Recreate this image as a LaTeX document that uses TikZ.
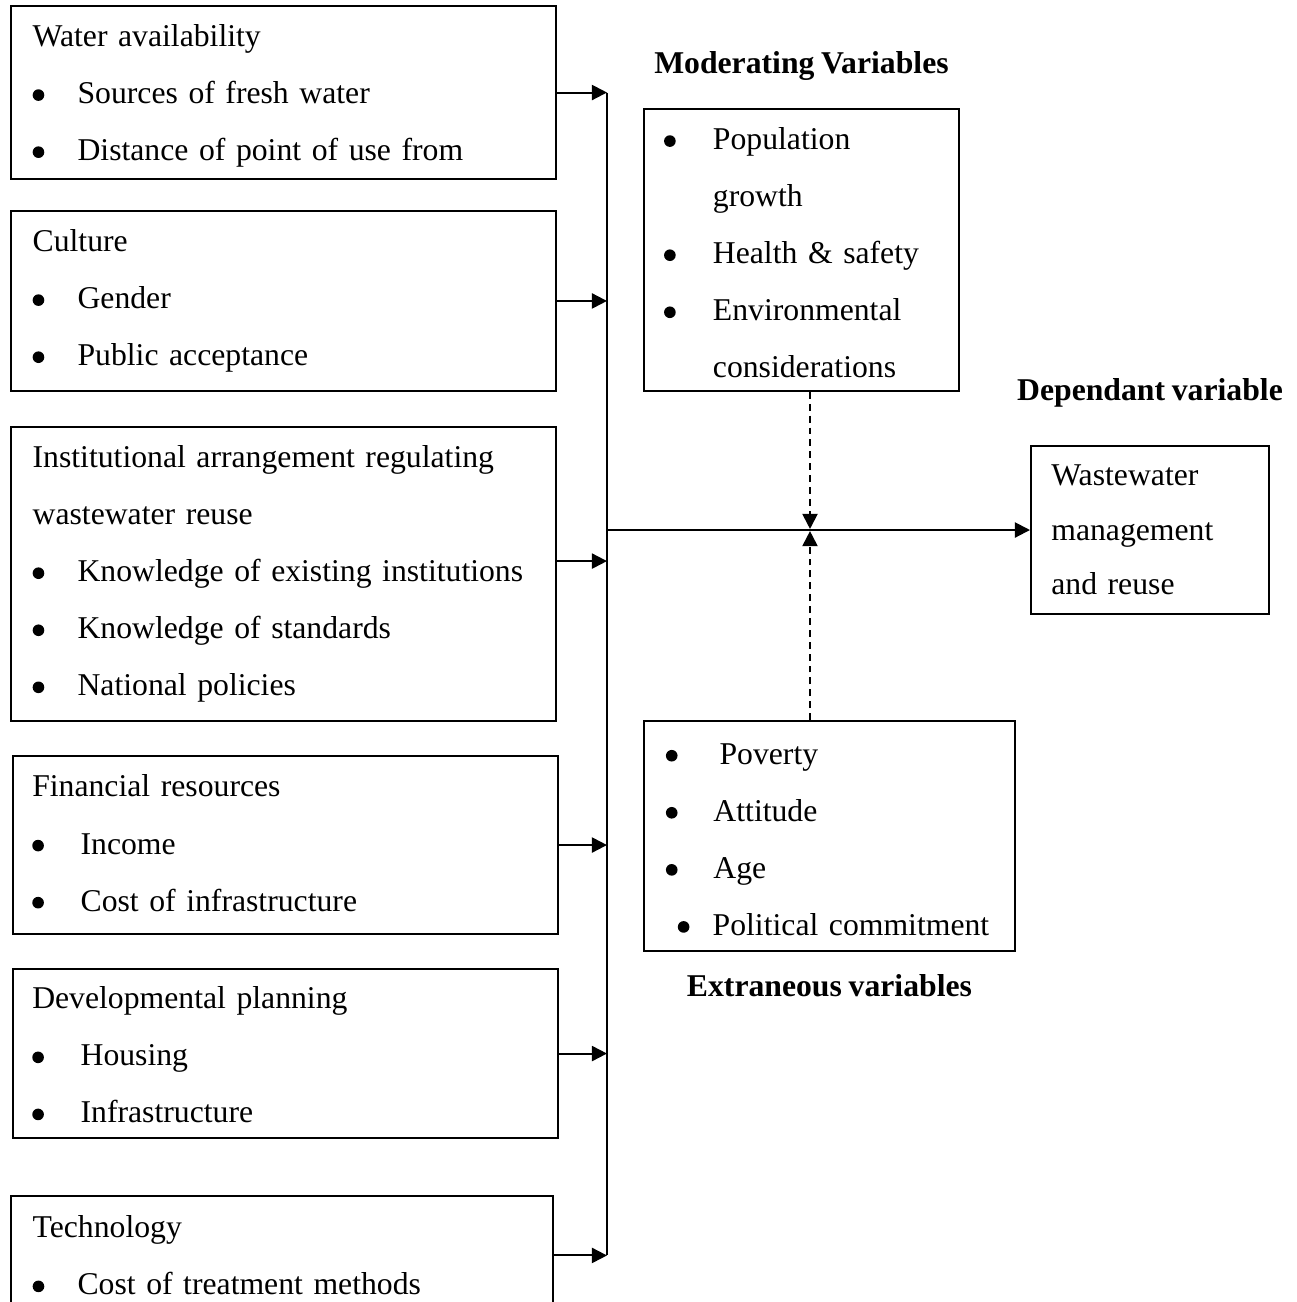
\documentclass[tikz,border=0pt]{standalone}
\usepackage{fontspec}
\setmainfont[WordSpace=0.85]{Liberation Serif}
\usetikzlibrary{positioning,arrows.meta}
% filled bullet and bullet line
\newcommand{\dotb}{\tikz[baseline={(0pt,-3.2pt)}]\fill (0pt,0pt) circle[radius=2.2pt];}
\newcommand{\itm}[2][17pt]{\mbox{\makebox[#1][l]{\dotb}#2}}
\tikzset{
  varbox/.style ={rectangle, draw=black, line width=0.75pt, anchor=north west, align=left,
                  inner xsep=8.2pt, inner ysep=0pt, font=\fontsize{12pt}{21.6pt}\selectfont},
  colbox/.style ={varbox, minimum width=206.3pt, text width=189.9pt},
  sink/.style   ={execute at begin node={\rule{0pt}{#1}}},
  lift/.style   ={execute at end node={\rule[-#1]{0pt}{#1}}},
  vartitle/.style={font=\fontsize{12pt}{14pt}\selectfont\bfseries, inner sep=0pt},
  arr/.style    ={-{Triangle[length=5.7pt,width=5.7pt]}, line width=0.75pt},
  darr/.style   ={arr, dash pattern=on 2.6pt off 1.9pt, shorten >=0.4pt},
}
\begin{document}
\begin{tikzpicture}[x=0.3785pt, y=-0.3785pt]
  \useasboundingbox (0,0) rectangle (1296,1302);
  % independent variables
  \node[colbox, minimum height=65.5pt, sink=10.9pt] (water) at (10,5)
    {Water availability\\ \itm{Sources of fresh water}\\ \itm{Distance of point of use from}};
  \node[colbox, minimum height=68.1pt] (cult) at (10,210)
    {Culture\\ \itm{Gender}\\ \itm{Public acceptance}};
  \node[colbox, minimum height=111.3pt] (inst) at (10,426)
    {Institutional arrangement regulating\\ wastewater reuse\\ \itm{Knowledge of existing institutions}\\
     \itm{Knowledge of standards}\\ \itm{National policies}};
  \node[colbox, minimum height=67.4pt, inner xsep=7.3pt, text width=191.7pt, lift=1.5pt] (fin) at (12,755)
    {Financial resources\\ \itm[18.3pt]{Income}\\ \itm[18.3pt]{Cost of infrastructure}};
  \node[colbox, minimum height=64pt, inner xsep=7.3pt, text width=191.7pt, sink=9.4pt] (dev) at (12,968)
    {Developmental planning\\ \itm[18.3pt]{Housing}\\ \itm[18.3pt]{Infrastructure}};
  \node[colbox, minimum width=205.1pt, text width=188.7pt, minimum height=45pt] (tech) at (10,1195)
    {Technology\\ \itm{Cost of treatment methods}};
  % moderating, extraneous and dependant variables
  \node[varbox, minimum width=119.2pt, text width=104pt, minimum height=106.7pt, inner xsep=7.6pt, sink=10.5pt] (mod) at (643,108)
    {\itm[18.5pt]{Population}\\ \hspace*{18.5pt}growth\\ \itm[18.5pt]{Health \& safety}\\
     \itm[18.5pt]{Environmental}\\ \hspace*{18.5pt}considerations};
  \node[varbox, minimum width=140.4pt, text width=123.8pt, minimum height=87.1pt, inner xsep=8.3pt, sink=10.5pt] (ext) at (643,720)
    {\itm[20.3pt]{Poverty}\\ \itm[18pt]{Attitude}\\ \itm[18pt]{Age}\\
     \hspace*{4.5pt}\itm[13.2pt]{Political commitment}};
  \node[varbox, minimum width=90.1pt, text width=74.7pt, minimum height=63.6pt, inner xsep=7.7pt,
        font=\fontsize{12pt}{20.7pt}\selectfont] (dep) at (1030,445)
    {Wastewater\\ management\\ and reuse};
  \node[vartitle, above=10.2pt of mod] (modt) {Moderating Variables};
  \node[vartitle, below=8.3pt of ext] (extt) {Extraneous variables};
  \node[vartitle, above=14pt of dep] (dept) {Dependant variable};
  % bus and connectors
  \coordinate (bus) at (607,0);
  \coordinate (cross) at (810,0);
  \draw[line width=0.75pt] (water.east -| bus) -- (tech.east -| bus);
  \foreach \b in {water,cult,fin,dev,tech}
    \draw[arr] (\b.east) -- (\b.east -| bus);
  \draw[arr] ([yshift=4.9pt]inst.east) -- ([yshift=4.9pt]inst.east -| bus);
  \draw[arr] (dep.west -| bus) -- (dep.west);
  \draw[darr] (mod.south -| cross) -- (cross |- dep.west);
  \draw[darr] (ext.north -| cross) -- (cross |- dep.west);
\end{tikzpicture}
\end{document}
